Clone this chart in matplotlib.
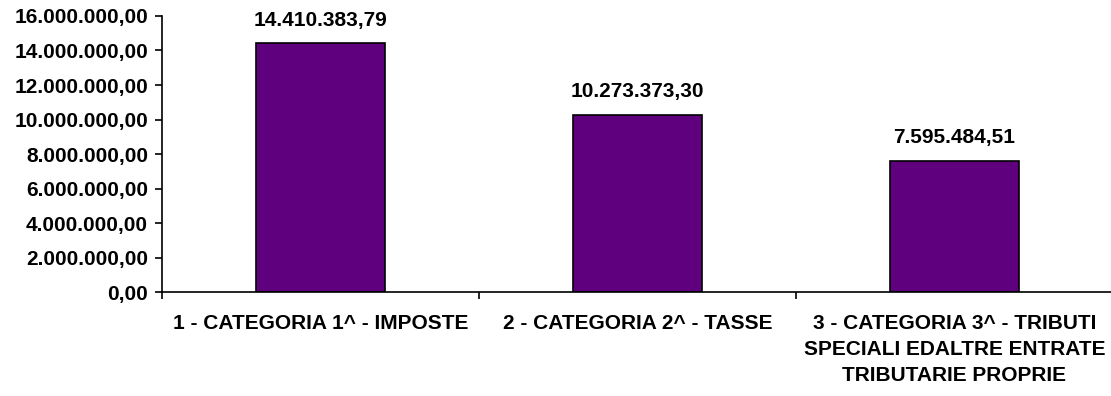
import numpy as np
import matplotlib.pyplot as plt
from matplotlib.ticker import FuncFormatter, FixedLocator

plt.rcParams['font.family'] = ['Liberation Sans', 'DejaVu Sans']
plt.rcParams['font.weight'] = 'bold'

categories = ["1 - CATEGORIA 1^ - IMPOSTE",
              "2 - CATEGORIA 2^ - TASSE",
              "3 - CATEGORIA 3^ - TRIBUTI\nSPECIALI EDALTRE ENTRATE\nTRIBUTARIE PROPRIE"]
values = [14410383.79, 10273373.30, 7595484.51]

FS = 15


def it_fmt(v):
    s = f"{v:,.2f}"
    return s.replace(",", "X").replace(".", ",").replace("X", ".")


fig = plt.figure(figsize=(11.11, 3.96), dpi=100)
ax = fig.add_axes([0.1458, 0.2626, 0.856, 0.697])

x = np.arange(len(values))
bars = ax.bar(x, values, width=0.405, color='#5F007F', edgecolor='black', linewidth=1.2)

for xi, v in zip(x, values):
    ax.annotate(it_fmt(v), (xi, v), xytext=(0, 10), textcoords='offset points',
                ha='center', va='bottom', fontsize=FS, fontweight='bold')

ax.set_xlim(-0.5, 2.5)
ax.set_ylim(0, 16000000)
ax.set_yticks(np.arange(0, 16000001, 2000000))
ax.yaxis.set_major_formatter(FuncFormatter(lambda v, p: it_fmt(v)))

ax.set_xticks(x)
ax.set_xticklabels(categories, fontsize=FS, fontweight='bold', linespacing=1.45)
ax.tick_params(axis='x', which='major', length=0, pad=16)
ax.xaxis.set_minor_locator(FixedLocator([-0.5, 0.5, 1.5, 2.5]))
ax.tick_params(axis='x', which='minor', length=5, width=1.2, direction='out')
ax.tick_params(axis='y', length=5, width=1.2, labelsize=FS, pad=5)
for lab in ax.get_yticklabels():
    lab.set_fontweight('bold')

ax.spines['top'].set_visible(False)
ax.spines['right'].set_visible(False)
ax.spines['left'].set_linewidth(1.2)
ax.spines['bottom'].set_linewidth(1.2)

fig.savefig('out.png', dpi=100)
